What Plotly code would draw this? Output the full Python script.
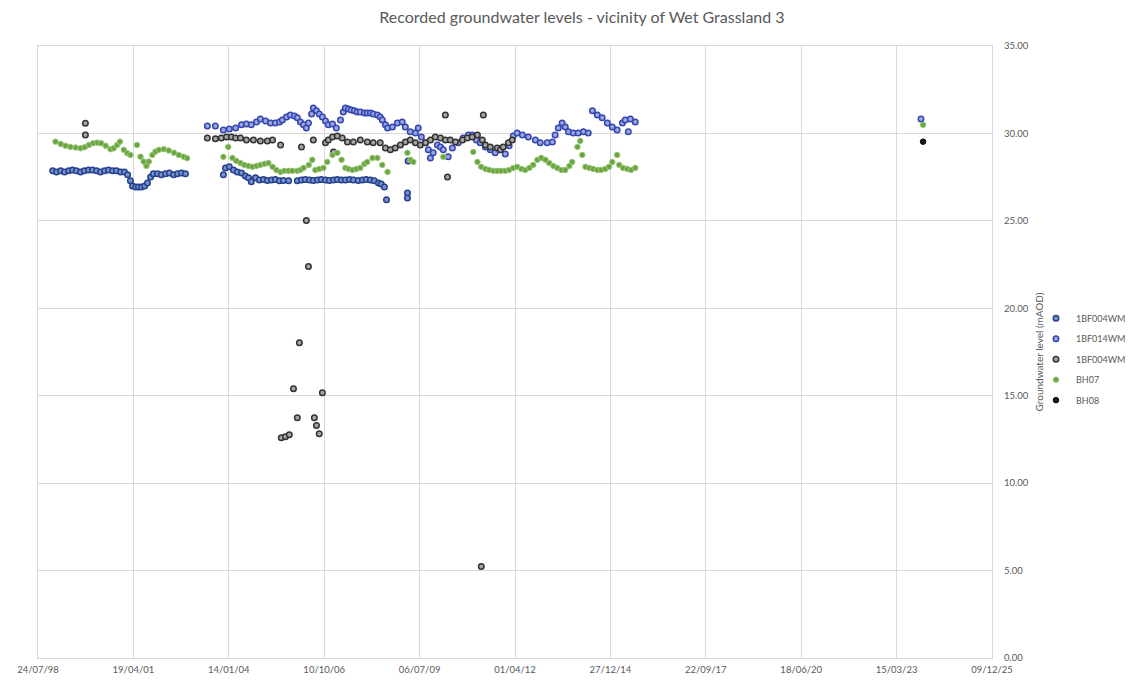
import plotly.graph_objects as go
from datetime import datetime

# ---------------- data (decimal years, levels in mAOD) ----------------
bf004wm_year = [1998.98, 1999.09, 1999.21, 1999.32, 1999.44, 1999.55, 1999.66, 1999.78, 1999.89, 2000.01,
                2000.12, 2000.24, 2000.35, 2000.47, 2000.58, 2000.70, 2000.81, 2000.93, 2001.04, 2001.13,
                2001.21, 2001.27, 2001.36, 2001.44, 2001.53, 2001.62, 2001.70, 2001.79, 2001.87, 2001.99,
                2002.10, 2002.22, 2002.33, 2002.45, 2002.56, 2002.68, 2002.79,
                2003.88, 2003.94, 2004.05, 2004.17, 2004.28, 2004.40, 2004.51, 2004.60, 2004.68, 2004.80,
                2004.91, 2005.03, 2005.14, 2005.26, 2005.37, 2005.49, 2005.60, 2005.75, 2006.00, 2006.12,
                2006.23, 2006.35, 2006.46, 2006.58, 2006.69, 2006.81, 2006.92, 2007.04, 2007.15, 2007.27,
                2007.38, 2007.50, 2007.61, 2007.75, 2007.87, 2007.98, 2008.10, 2008.21, 2008.33, 2008.41,
                2008.50, 2008.56, 2009.16, 2009.16, 2009.18]
bf004wm_level = [27.86, 27.80, 27.86, 27.80, 27.86, 27.91, 27.86, 27.80, 27.86, 27.91,
                 27.91, 27.86, 27.80, 27.86, 27.91, 27.86, 27.86, 27.80, 27.80, 27.63,
                 27.29, 27.00, 26.94, 26.94, 26.94, 27.00, 27.17, 27.51, 27.69, 27.69,
                 27.63, 27.69, 27.74, 27.63, 27.69, 27.74, 27.69,
                 27.63, 28.03, 28.09, 27.91, 27.80, 27.74, 27.57, 27.46, 27.23, 27.46,
                 27.34, 27.36, 27.31, 27.34, 27.36, 27.29, 27.31, 27.29, 27.29, 27.34,
                 27.36, 27.34, 27.31, 27.34, 27.36, 27.34, 27.31, 27.34, 27.36, 27.34,
                 27.33, 27.36, 27.34, 27.31, 27.34, 27.36, 27.34, 27.29, 27.17, 27.11,
                 26.94, 26.20, 26.60, 26.31, 28.43]

bf014wm_year = [2003.42, 2003.65, 2003.88, 2004.05, 2004.23, 2004.40, 2004.54, 2004.68, 2004.83, 2004.94,
                2005.09, 2005.23, 2005.37, 2005.49, 2005.57, 2005.69, 2005.80, 2005.92, 2006.00, 2006.09,
                2006.18, 2006.26, 2006.32, 2006.41, 2006.46, 2006.55, 2006.63, 2006.72, 2006.81, 2006.89,
                2007.01, 2007.12, 2007.24, 2007.32, 2007.38, 2007.47, 2007.55, 2007.64, 2007.72, 2007.81,
                2007.93, 2008.01, 2008.10, 2008.18, 2008.30, 2008.38, 2008.44, 2008.53, 2008.59, 2008.73,
                2008.87, 2009.01, 2009.10, 2009.24, 2009.39, 2009.47, 2009.56, 2009.68, 2009.76, 2009.82,
                2009.90, 2010.02, 2010.11, 2010.19, 2010.33, 2010.45, 2010.62, 2010.76, 2010.91, 2011.02,
                2011.14, 2011.25, 2011.40, 2011.54, 2011.68, 2011.83, 2011.97, 2012.08, 2012.20, 2012.31,
                2012.46, 2012.63, 2012.83, 2012.97, 2013.17, 2013.32, 2013.40, 2013.49, 2013.60, 2013.69,
                2013.78, 2013.92, 2014.06, 2014.21, 2014.35, 2014.47, 2014.61, 2014.75, 2014.90, 2015.04,
                2015.18, 2015.33, 2015.41, 2015.50, 2015.56, 2015.70, 2023.90]
bf014wm_level = [30.43, 30.43, 30.20, 30.26, 30.31, 30.49, 30.54, 30.49, 30.66, 30.83,
                 30.71, 30.60, 30.60, 30.66, 30.77, 30.94, 31.06, 31.00, 30.89, 30.66,
                 30.49, 30.31, 30.60, 31.11, 31.46, 31.29, 31.11, 30.94, 30.71, 30.49,
                 30.54, 30.31, 30.77, 31.23, 31.46, 31.40, 31.34, 31.29, 31.23, 31.23,
                 31.17, 31.17, 31.17, 31.11, 31.06, 30.94, 30.77, 30.49, 30.31, 30.37,
                 30.60, 30.66, 30.37, 30.09, 30.03, 30.31, 29.80, 29.46, 29.06, 28.60,
                 28.89, 29.34, 29.23, 29.06, 28.66, 29.17, 29.46, 29.74, 29.91, 29.91,
                 29.63, 29.46, 29.23, 29.06, 28.89, 29.06, 28.83, 29.29, 29.86, 30.03,
                 29.91, 29.80, 29.63, 29.46, 29.46, 29.51, 29.91, 30.31, 30.60, 30.37,
                 30.09, 30.03, 30.03, 30.09, 30.03, 31.29, 31.06, 30.89, 30.60, 30.37,
                 30.20, 30.60, 30.77, 30.09, 30.83, 30.66, 30.83]

bf004wmb_year = [1999.92, 1999.92, 2003.42, 2003.65, 2003.82, 2003.97, 2004.11, 2004.23, 2004.37, 2004.54,
                 2004.74, 2004.94, 2005.14, 2005.29, 2005.52, 2005.54, 2005.66, 2005.77, 2005.89, 2006.00,
                 2006.06, 2006.12, 2006.26, 2006.32, 2006.46, 2006.49, 2006.55, 2006.63, 2006.72, 2006.81,
                 2006.89, 2007.01, 2007.04, 2007.15, 2007.29, 2007.44, 2007.61, 2007.81, 2008.01, 2008.18,
                 2008.38, 2008.53, 2008.67, 2008.81, 2008.96, 2009.10, 2009.24, 2009.39, 2009.53, 2009.68,
                 2009.82, 2009.96, 2010.11, 2010.25, 2010.25, 2010.31, 2010.39, 2010.54, 2010.74, 2010.88,
                 2011.02, 2011.17, 2011.28, 2011.31, 2011.34, 2011.40, 2011.54, 2011.74, 2011.83, 2011.91,
                 2012.06, 2012.17]
bf004wmb_level = [30.58, 29.91, 29.74, 29.69, 29.74, 29.80, 29.80, 29.74, 29.74, 29.63,
                  29.63, 29.57, 29.57, 29.63, 29.34, 12.60, 12.66, 12.77, 15.40, 13.74,
                  18.03, 29.23, 25.02, 22.39, 29.63, 13.74, 13.29, 12.83, 15.17, 29.46,
                  29.63, 29.80, 28.94, 29.86, 29.74, 29.51, 29.51, 29.63, 29.51, 29.46,
                  29.46, 29.17, 29.06, 29.17, 29.34, 29.51, 29.63, 29.46, 29.34, 29.46,
                  29.63, 29.80, 29.74, 29.63, 31.06, 27.51, 29.63, 29.51, 29.63, 29.74,
                  29.80, 29.91, 5.23, 29.63, 31.06, 29.34, 29.23, 29.17, 29.06, 29.23,
                  29.46, 29.63]

bh07_year = [1999.06, 1999.21, 1999.35, 1999.49, 1999.64, 1999.78, 1999.90, 2000.02, 2000.14, 2000.26,
             2000.37, 2000.50, 2000.64, 2000.73, 2000.83, 2000.91, 2001.02, 2001.12, 2001.21, 2001.40,
             2001.50, 2001.59, 2001.67, 2001.74, 2001.84, 2001.93, 2002.03, 2002.17, 2002.31, 2002.46,
             2002.60, 2002.74, 2002.84,
             2003.88, 2004.02, 2004.14, 2004.25, 2004.37, 2004.48, 2004.60, 2004.71, 2004.83, 2004.94,
             2005.06, 2005.17, 2005.29, 2005.40, 2005.52, 2005.63, 2005.75, 2005.86, 2006.00, 2006.09,
             2006.18, 2006.33, 2006.43, 2006.52, 2006.63, 2006.75, 2006.86, 2007.01, 2007.15, 2007.27,
             2007.38, 2007.47, 2007.58, 2007.70, 2007.81, 2007.93, 2008.01, 2008.16, 2008.30, 2008.44,
             2008.59, 2009.16, 2009.25, 2009.33, 2010.19, 2011.05, 2011.17, 2011.28, 2011.40, 2011.51,
             2011.63, 2011.74, 2011.85, 2011.97, 2012.08, 2012.20, 2012.31, 2012.43, 2012.54, 2012.66,
             2012.77, 2012.89, 2013.00, 2013.12, 2013.23, 2013.35, 2013.46, 2013.58, 2013.69, 2013.81,
             2013.89, 2014.04, 2014.12, 2014.18, 2014.27, 2014.38, 2014.49, 2014.61, 2014.72, 2014.84,
             2014.95, 2015.04, 2015.18, 2015.24, 2015.35, 2015.47, 2015.58, 2015.70, 2023.96]
bh07_level = [29.53, 29.40, 29.29, 29.23, 29.19, 29.15, 29.21, 29.34, 29.44, 29.47,
              29.44, 29.29, 29.10, 29.15, 29.34, 29.53, 29.06, 28.87, 28.77, 29.34,
              28.67, 28.39, 28.14, 28.39, 28.77, 28.96, 29.06, 29.10, 29.02, 28.90,
              28.77, 28.67, 28.58,
              28.66, 29.23, 28.60, 28.43, 28.31, 28.20, 28.14, 28.09, 28.14, 28.20,
              28.26, 28.31, 28.09, 27.91, 27.80, 27.86, 27.86, 27.86, 27.86, 27.91,
              28.03, 28.20, 28.49, 27.91, 27.97, 28.03, 28.37, 28.77, 28.89, 28.49,
              28.03, 27.97, 27.91, 27.97, 28.03, 28.26, 28.37, 28.60, 28.60, 28.20,
              27.80, 28.89, 28.49, 28.37, 28.66, 28.94, 28.37, 28.09, 27.97, 27.91,
              27.86, 27.86, 27.86, 27.86, 27.91, 28.03, 28.09, 27.97, 27.91, 28.03,
              28.20, 28.49, 28.60, 28.49, 28.31, 28.14, 28.03, 27.91, 27.91, 28.14,
              28.37, 29.23, 29.57, 28.77, 28.09, 28.03, 27.97, 27.91, 27.91, 27.97,
              28.09, 28.37, 28.77, 28.20, 28.03, 27.97, 27.91, 28.03, 30.49]

bh08_year = [2023.96]
bh08_level = [29.53]

tick_dates = ["1998-07-24", "2001-04-19", "2004-01-14", "2006-10-10", "2009-07-06", "2012-04-01",
              "2014-12-27", "2017-09-22", "2020-06-18", "2023-03-15", "2025-12-09"]
tick_labels = ["24/07/98", "19/04/01", "14/01/04", "10/10/06", "06/07/09", "01/04/12",
               "27/12/14", "22/09/17", "18/06/20", "15/03/23", "09/12/25"]


def to_dates(years):
    out = []
    for y in years:
        yr = int(y)
        start = datetime(yr, 1, 1)
        end = datetime(yr + 1, 1, 1)
        out.append(start + (end - start) * (y - yr))
    return out


series = [
    ("1BF004WM", bf004wm_year, bf004wm_level, "#7b92c9", "#24418f", 1.5),
    ("1BF014WM", bf014wm_year, bf014wm_level, "#9aa8dc", "#3545b3", 1.5),
    ("1BF004WMB", bf004wmb_year, bf004wmb_level, "#a6a6a6", "#333333", 1.5),
    ("BH07", bh07_year, bh07_level, "#6aa63f", "#9cc77a", 1.0),
    ("BH08", bh08_year, bh08_level, "#1a1a1a", "#000000", 1.0),
]

fig = go.Figure()
for name, yrs, lv, fill, line, lw in series:
    fig.add_trace(go.Scatter(
        x=to_dates(yrs), y=lv, mode="markers", name=name, legendgroup=name,
        marker=dict(size=5.5, color=fill, line=dict(color=line, width=lw)),
    ))

font_family = "Lato, 'Open Sans', sans-serif"
# page body has an 8px margin, so the figure is sized to fill the rest of the window
fig.update_layout(
    width=1125, height=673,
    margin=dict(l=30, r=141, t=38, b=22.5, autoexpand=False),
    paper_bgcolor="white", plot_bgcolor="white",
    font=dict(family=font_family, color="#595959", size=9),
    title=dict(text="Recorded groundwater levels - vicinity of Wet Grassland 3",
               x=0.5102, xanchor="center", xref="container",
               y=0.9866, yanchor="middle", yref="container",
               font=dict(size=16, color="#595959", family=font_family)),
    xaxis=dict(type="date", range=["1998-07-24", "2025-12-09"],
               tickmode="array", tickvals=tick_dates, ticktext=tick_labels,
               showgrid=True, gridcolor="#d9d9d9", gridwidth=1,
               zeroline=False, showline=True, linecolor="#d9d9d9", mirror=True,
               ticks="", ticklabelstandoff=3, tickfont=dict(size=9.5, color="#595959")),
    yaxis=dict(side="right", range=[0, 35], tick0=0, dtick=5, tickformat=".2f",
               showgrid=True, gridcolor="#d9d9d9", gridwidth=1,
               zeroline=False, showline=True, linecolor="#d9d9d9", mirror=True,
               ticks="", ticklabelstandoff=9, tickfont=dict(size=9.5, color="#595959"),
               title=dict(text="Groundwater level (mAOD)", standoff=8,
                          font=dict(size=10, color="#595959"))),
    legend=dict(x=1.0461, xanchor="left", y=0.579, yanchor="top",
                font=dict(size=9, color="#595959"), bgcolor="rgba(0,0,0,0)",
                tracegroupgap=1.5, traceorder="grouped"),
    showlegend=True,
)

fig.write_html("out.html")
